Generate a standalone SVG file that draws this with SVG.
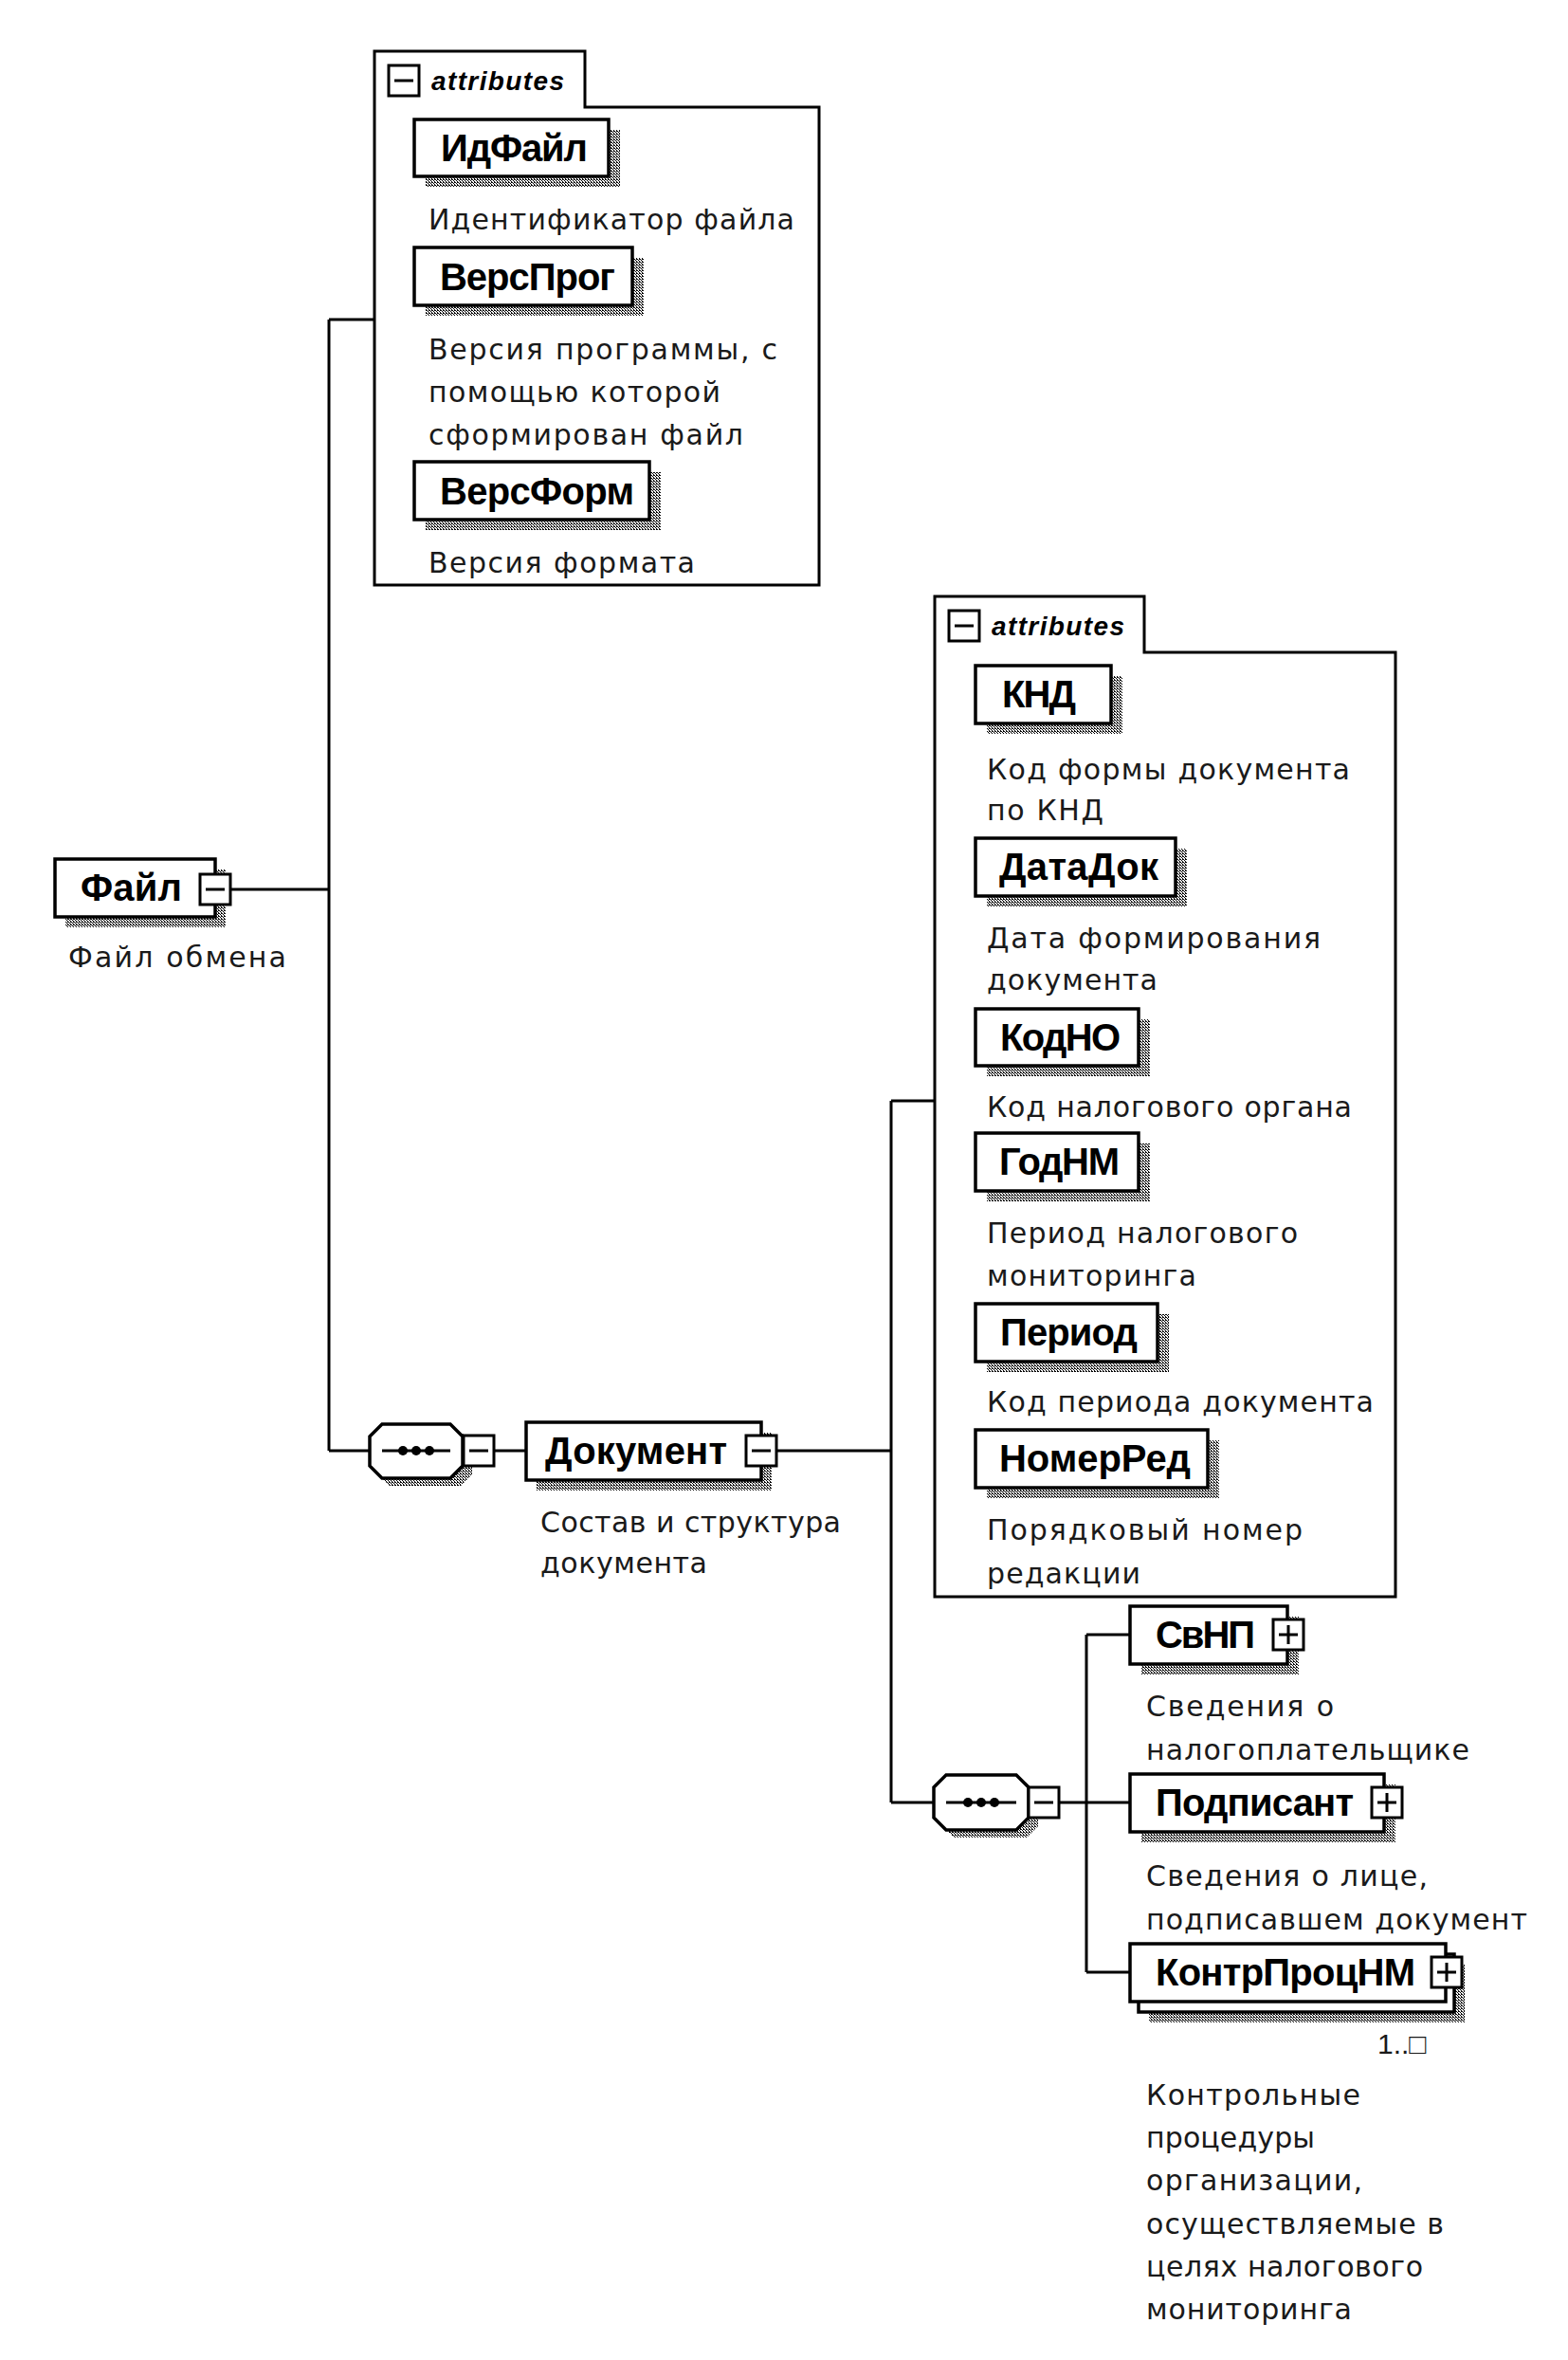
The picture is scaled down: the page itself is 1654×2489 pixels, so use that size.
<svg xmlns="http://www.w3.org/2000/svg" width="1654" height="2489" viewBox="0 0 1654 2489">
<defs>
<pattern id="dots" width="3" height="3" patternUnits="userSpaceOnUse">
<rect width="3" height="3" fill="#fff"/>
<rect x="0" y="0" width="1" height="1" fill="#000"/>
<rect x="1" y="1" width="1" height="1" fill="#000"/>
<rect x="2" y="2" width="1" height="1" fill="#000"/>
<rect x="2" y="0" width="1" height="1" fill="#000"/>
</pattern>
<style>
.box{fill:#fff;stroke:#000;stroke-width:3.5}
.shd{fill:url(#dots);stroke:none}
.frame{fill:#fff;stroke:#000;stroke-width:3}
.icon{fill:#fff;stroke:#000;stroke-width:3}
.conn{fill:none;stroke:#000;stroke-width:3}
.lbl{font-family:"Liberation Sans",Arial,sans-serif;font-weight:bold;font-size:40px;fill:#000}
.desc{font-family:"DejaVu Sans",Verdana,sans-serif;font-size:30px;fill:#1a1a1a}
.occ{font-family:"Liberation Sans",Arial,sans-serif;font-size:30px;fill:#1a1a1a}
.attr{font-family:"Liberation Sans",Arial,sans-serif;font-weight:bold;font-style:italic;font-size:28px;fill:#000}
</style>
</defs>
<rect width="1654" height="2489" fill="#fff"/>

<g id="connectors">
<path class="conn" d="M243 938 H347 M347 337 V1530 M347 337 H395 M347 1530 H390 M521 1530 H555 M819 1530 H940 M940 1161 V1901 M940 1161 H986 M940 1901 H985 M1117 1901 H1192 M1146 1724 V2080 M1146 1724 H1192 M1146 2080 H1192"/>
</g>

<g id="attributes1">
<path class="frame" d="M395 54 H617 V113 H864 V617 H395 Z"/>
<rect class="icon" x="410" y="69" width="32" height="32"/>
<line class="conn" x1="416" y1="85" x2="436" y2="85"/>
<text class="attr" x="455" y="95" textLength="140">attributes</text>
</g>

<g id="node-IdFile">
<rect class="shd" x="449" y="137" width="205" height="60"/>
<rect class="box" x="437" y="126" width="205" height="60"/>
<text class="lbl" x="465" y="170" textLength="155">ИдФайл</text>
<text class="desc" x="452" y="242" textLength="386">Идентификатор файла</text>
</g>

<g id="node-VersProg">
<rect class="shd" x="449" y="272" width="230" height="61"/>
<rect class="box" x="437" y="261" width="230" height="61"/>
<text class="lbl" x="464" y="306" textLength="185">ВерсПрог</text>
<text class="desc" x="452" y="379" textLength="368">Версия программы, с</text>
<text class="desc" x="452" y="424" textLength="308">помощью которой</text>
<text class="desc" x="452" y="469" textLength="332">сформирован файл</text>
</g>

<g id="node-VersForm">
<rect class="shd" x="449" y="498" width="248" height="61"/>
<rect class="box" x="437" y="487" width="248" height="61"/>
<text class="lbl" x="464" y="532" textLength="205">ВерсФорм</text>
<text class="desc" x="452" y="604" textLength="281">Версия формата</text>
</g>

<g id="node-File">
<rect class="shd" x="69" y="917" width="169" height="61"/>
<rect class="box" x="58" y="906" width="169" height="61"/>
<rect class="icon" x="211" y="922" width="32" height="32"/>
<line class="conn" x1="217" y1="938" x2="237" y2="938"/>
<text class="lbl" x="85" y="950" textLength="107">Файл</text>
<text class="desc" x="72" y="1020" textLength="230">Файл обмена</text>
</g>

<g id="sequence1">
<path class="shd" d="M411 1510 H486 L498 1522 V1555 L486 1567 H411 L399 1555 V1522 Z"/>
<path class="box" d="M403 1502 H475 L488 1515 V1546 L475 1559 H403 L390 1546 V1515 Z"/>
<line class="conn" x1="403" y1="1530" x2="475" y2="1530"/>
<circle cx="425" cy="1530" r="5"/>
<circle cx="439" cy="1530" r="5"/>
<circle cx="453" cy="1530" r="5"/>
<rect class="icon" x="489" y="1514" width="32" height="32"/>
<line class="conn" x1="495" y1="1530" x2="515" y2="1530"/>
</g>

<g id="node-Document">
<rect class="shd" x="566" y="1511" width="248" height="61"/>
<rect class="box" x="555" y="1500" width="248" height="61"/>
<rect class="icon" x="787" y="1514" width="32" height="32"/>
<line class="conn" x1="793" y1="1530" x2="813" y2="1530"/>
<text class="lbl" x="575" y="1544" textLength="192">Документ</text>
<text class="desc" x="570" y="1616" textLength="317">Состав и структура</text>
<text class="desc" x="570" y="1659" textLength="176">документа</text>
</g>

<g id="attributes2">
<path class="frame" d="M986 629 H1207 V688 H1472 V1684 H986 Z"/>
<rect class="icon" x="1001" y="644" width="32" height="32"/>
<line class="conn" x1="1007" y1="660" x2="1027" y2="660"/>
<text class="attr" x="1046" y="670" textLength="140">attributes</text>
</g>

<g id="node-KND">
<rect class="shd" x="1041" y="713" width="143" height="61"/>
<rect class="box" x="1029" y="702" width="143" height="61"/>
<text class="lbl" x="1057" y="746" textLength="78">КНД</text>
<text class="desc" x="1041" y="822" textLength="383">Код формы документа</text>
<text class="desc" x="1041" y="865" textLength="123">по КНД</text>
</g>

<g id="node-DataDok">
<rect class="shd" x="1041" y="895" width="211" height="61"/>
<rect class="box" x="1029" y="884" width="211" height="61"/>
<text class="lbl" x="1054" y="928" textLength="168">ДатаДок</text>
<text class="desc" x="1041" y="1000" textLength="352">Дата формирования</text>
<text class="desc" x="1041" y="1044" textLength="180">документа</text>
</g>

<g id="node-KodNO">
<rect class="shd" x="1041" y="1075" width="172" height="60"/>
<rect class="box" x="1029" y="1064" width="172" height="60"/>
<text class="lbl" x="1055" y="1108" textLength="127">КодНО</text>
<text class="desc" x="1041" y="1178" textLength="385">Код налогового органа</text>
</g>

<g id="node-GodNM">
<rect class="shd" x="1041" y="1206" width="172" height="61"/>
<rect class="box" x="1029" y="1195" width="172" height="61"/>
<text class="lbl" x="1054" y="1239" textLength="127">ГодНМ</text>
<text class="desc" x="1041" y="1311" textLength="328">Период налогового</text>
<text class="desc" x="1041" y="1356" textLength="221">мониторинга</text>
</g>

<g id="node-Period">
<rect class="shd" x="1041" y="1386" width="192" height="61"/>
<rect class="box" x="1029" y="1375" width="192" height="61"/>
<text class="lbl" x="1055" y="1419" textLength="145">Период</text>
<text class="desc" x="1041" y="1489" textLength="408">Код периода документа</text>
</g>

<g id="node-NomerRed">
<rect class="shd" x="1041" y="1519" width="245" height="61"/>
<rect class="box" x="1029" y="1508" width="245" height="61"/>
<text class="lbl" x="1054" y="1552" textLength="202">НомерРед</text>
<text class="desc" x="1041" y="1624" textLength="333">Порядковый номер</text>
<text class="desc" x="1041" y="1670" textLength="162">редакции</text>
</g>

<g id="sequence2">
<path class="shd" d="M1006 1880 H1083 L1095 1892 V1926 L1083 1938 H1006 L994 1926 V1892 Z"/>
<path class="box" d="M998 1872 H1072 L1085 1885 V1917 L1072 1930 H998 L985 1917 V1885 Z"/>
<line class="conn" x1="998" y1="1901" x2="1072" y2="1901"/>
<circle cx="1021" cy="1901" r="5"/>
<circle cx="1035" cy="1901" r="5"/>
<circle cx="1049" cy="1901" r="5"/>
<rect class="icon" x="1085" y="1885" width="32" height="32"/>
<line class="conn" x1="1091" y1="1901" x2="1111" y2="1901"/>
</g>

<g id="node-SvNP">
<rect class="shd" x="1204" y="1705" width="166" height="61"/>
<rect class="box" x="1192" y="1694" width="166" height="61"/>
<rect class="icon" x="1343" y="1708" width="32" height="32"/>
<path class="conn" d="M1349 1724 H1369 M1359 1714 V1734"/>
<text class="lbl" x="1219" y="1738" textLength="105">СвНП</text>
<text class="desc" x="1209" y="1810" textLength="198">Сведения о</text>
<text class="desc" x="1209" y="1856" textLength="341">налогоплательщике</text>
</g>

<g id="node-Podpisant">
<rect class="shd" x="1204" y="1882" width="268" height="61"/>
<rect class="box" x="1192" y="1871" width="268" height="61"/>
<rect class="icon" x="1447" y="1885" width="32" height="32"/>
<path class="conn" d="M1453 1901 H1473 M1463 1891 V1911"/>
<text class="lbl" x="1219" y="1915" textLength="209">Подписант</text>
<text class="desc" x="1209" y="1989" textLength="297">Сведения о лице,</text>
<text class="desc" x="1209" y="2035" textLength="402">подписавшем документ</text>
</g>

<g id="node-KontrProcNM">
<rect class="shd" x="1212" y="2072" width="333" height="61"/>
<rect class="box" x="1201" y="2061" width="333" height="61"/>
<rect class="box" x="1192" y="2050" width="333" height="61"/>
<rect class="icon" x="1510" y="2064" width="32" height="32"/>
<path class="conn" d="M1516 2080 H1536 M1526 2070 V2090"/>
<text class="lbl" x="1219" y="2094" textLength="274">КонтрПроцНМ</text>
<text class="occ" x="1453" y="2166">1..□</text>
<text class="desc" x="1209" y="2220" textLength="226">Контрольные</text>
<text class="desc" x="1209" y="2265" textLength="178">процедуры</text>
<text class="desc" x="1209" y="2310" textLength="228">организации,</text>
<text class="desc" x="1209" y="2356" textLength="314">осуществляемые в</text>
<text class="desc" x="1209" y="2401" textLength="292">целях налогового</text>
<text class="desc" x="1209" y="2446" textLength="217">мониторинга</text>
</g>
</svg>
